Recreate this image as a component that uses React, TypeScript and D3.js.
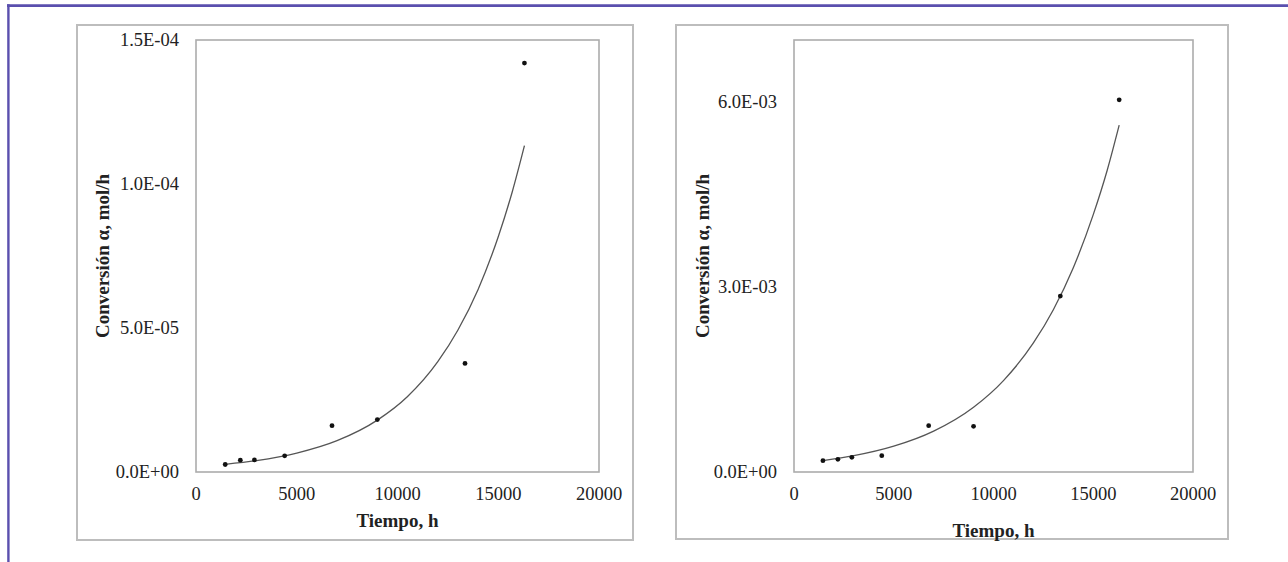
import React from "react";
import * as d3 from "d3";

// ---- data ----
const timeHours = [1450, 2200, 2900, 4400, 6750, 9000, 13350, 16300];

const leftValues = [2.6e-6, 4.1e-6, 4.2e-6, 5.6e-6, 1.61e-5, 1.82e-5, 3.77e-5, 1.42e-4];
const rightValues = [1.83e-4, 2.06e-4, 2.38e-4, 2.64e-4, 7.5e-4, 7.4e-4, 2.85e-3, 6.03e-3];

// trend-line samples
const curveTimes = [1450, 3000, 5000, 7000, 9000, 10500, 12000, 13000, 14000, 15000, 15700, 16300];
const leftCurve = [2.68e-6, 3.96e-6, 6.56e-6, 1.086e-5, 1.8e-5, 2.62e-5, 3.83e-5, 4.93e-5, 6.34e-5, 8.17e-5, 9.74e-5, 1.133e-4];
const rightCurve = [1.85e-4, 2.64e-4, 4.18e-4, 6.62e-4, 1.049e-3, 1.481e-3, 2.091e-3, 2.63e-3, 3.31e-3, 4.17e-3, 4.89e-3, 5.62e-3];

const xTicks = [0, 5000, 10000, 15000, 20000];
const xTickLabels = ["0", "5000", "10000", "15000", "20000"];

const leftYTicks = [0, 5e-5, 1e-4, 1.5e-4];
const leftYTickLabels = ["0.0E+00", "5.0E-05", "1.0E-04", "1.5E-04"];
const rightYTicks = [0, 3e-3, 6e-3];
const rightYTickLabels = ["0.0E+00", "3.0E-03", "6.0E-03"];

const xTitle = "Tiempo, h";
const yTitle = "Conversión α, mol/h";

const FONT = "'Liberation Serif', 'Times New Roman', serif";

type PanelProps = {
  outer: [number, number, number, number];
  inner: [number, number, number, number];
  yMax: number;
  yTicks: number[];
  yLabels: string[];
  values: number[];
  curve: number[];
  yTitleX: number;
  xTitleY: number;
};

function Panel(p: PanelProps) {
  const [ix0, iy0, ix1, iy1] = p.inner;
  const [ox0, oy0, ox1, oy1] = p.outer;
  const x = d3.scaleLinear().domain([0, 20000]).range([ix0, ix1]);
  const y = d3.scaleLinear().domain([0, p.yMax]).range([iy1, iy0]);
  const line = d3
    .line<number>()
    .x((_, i) => x(curveTimes[i]))
    .y((d) => y(d))
    .curve(d3.curveMonotoneX);
  return (
    <g>
      <rect x={ox0} y={oy0} width={ox1 - ox0} height={oy1 - oy0} fill="white" stroke="#bdbdbd" strokeWidth={2} />
      <rect x={ix0} y={iy0} width={ix1 - ix0} height={iy1 - iy0} fill="white" stroke="#acacac" strokeWidth={1.6} />
      {p.yTicks.map((t, i) => (
        <text key={"y" + i} x={ix0 - 17} y={y(t)} textAnchor="end" dominantBaseline="central" fontFamily={FONT} fontSize={18.5} fill="#222">
          {p.yLabels[i]}
        </text>
      ))}
      {xTicks.map((t, i) => (
        <text key={"x" + i} x={x(t)} y={494} textAnchor="middle" dominantBaseline="central" fontFamily={FONT} fontSize={18.5} fill="#222">
          {xTickLabels[i]}
        </text>
      ))}
      <text x={(ix0 + ix1) / 2} y={p.xTitleY} textAnchor="middle" dominantBaseline="central" fontFamily={FONT} fontSize={19} fontWeight="bold" fill="#222">
        {xTitle}
      </text>
      <text
        transform={`translate(${p.yTitleX},${(iy0 + iy1) / 2}) rotate(-90)`}
        textAnchor="middle"
        dominantBaseline="central"
        fontFamily={FONT}
        fontSize={19}
        fontWeight="bold"
        fill="#222"
      >
        {yTitle}
      </text>
      <path d={line(p.curve) || ""} fill="none" stroke="#555" strokeWidth={1.3} />
      {p.values.map((v, i) => (
        <circle key={"p" + i} cx={x(timeHours[i])} cy={y(v)} r={2.4} fill="#111" />
      ))}
    </g>
  );
}

export default function App() {
  return (
    <div style={{ position: "absolute", left: 0, top: 0 }}>
      <svg width={1288} height={562} style={{ display: "block", background: "white" }}>
        <rect x={0} y={0} width={1288} height={562} fill="white" />
        <line x1={7} y1={5.6} x2={1288} y2={5.6} stroke="#5a4fae" strokeWidth={2.6} />
        <line x1={8.4} y1={4.3} x2={8.4} y2={562} stroke="#5a4fae" strokeWidth={2.4} />
        <Panel
          outer={[77, 25, 633, 540]}
          inner={[196, 40, 599, 472]}
          yMax={1.5e-4}
          yTicks={leftYTicks}
          yLabels={leftYTickLabels}
          values={leftValues}
          curve={leftCurve}
          yTitleX={102}
          xTitleY={520}
        />
        <Panel
          outer={[676, 25, 1228, 539]}
          inner={[794, 40, 1193, 472]}
          yMax={7e-3}
          yTicks={rightYTicks}
          yLabels={rightYTickLabels}
          values={rightValues}
          curve={rightCurve}
          yTitleX={702}
          xTitleY={530}
        />
      </svg>
    </div>
  );
}
